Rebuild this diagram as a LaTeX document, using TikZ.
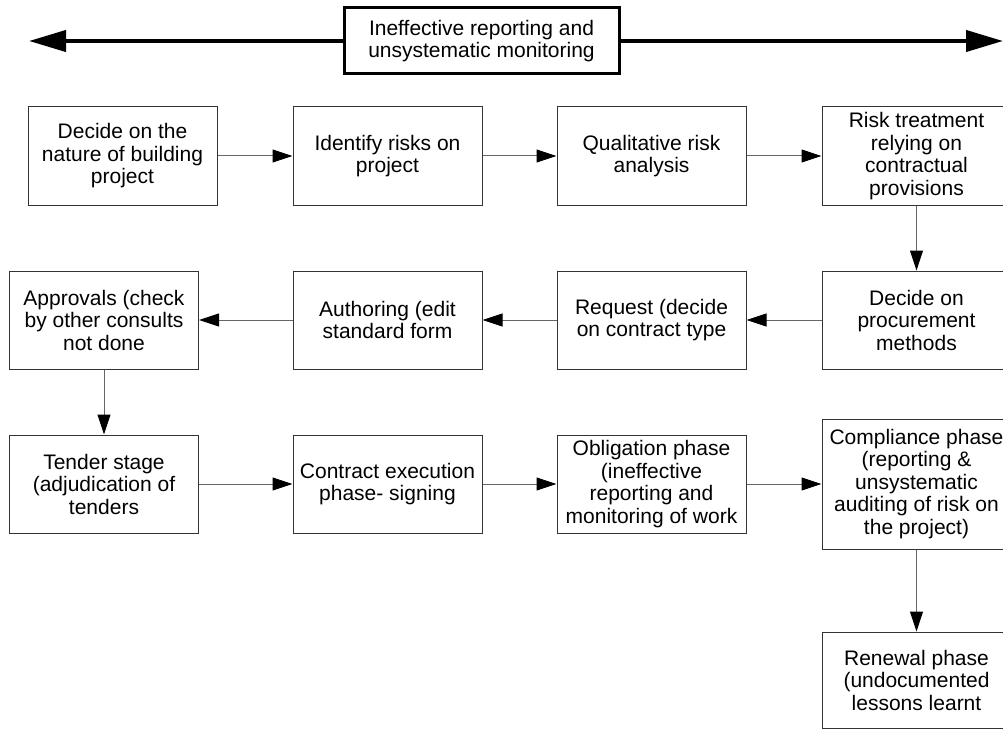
\documentclass[tikz,border=0pt]{standalone}
\usepackage{fontspec}
\setmainfont{Liberation Sans}
\usetikzlibrary{arrows.meta}
\begin{document}
\begin{tikzpicture}[x=1pt,y=-1pt,
  stepbox/.style={draw=black!80, line width=1pt, minimum width=189pt,
    minimum height=98pt, inner sep=2pt, align=center,
    font=\fontsize{21}{22.5}\selectfont},
  flow/.style={draw=black!60, line width=1pt,
    -{Triangle[length=20pt,width=13pt,color=black]}},
  banner/.style={draw=black, line width=3pt, minimum width=275pt,
    minimum height=66pt, inner sep=2pt, align=center, fill=white,
    font=\fontsize{21}{22.5}\selectfont},
  bannerarrow/.style={line width=4pt, -{Triangle[length=37pt,width=21pt]}}]
\useasboundingbox (0,0) rectangle (1003,730);
\clip (0,0) rectangle (1003,730);

% banner with a double-headed arrow across the page
\node[banner] (ban) at (481.5,41) {Ineffective reporting and\\unsystematic monitoring};
\coordinate (lefttip) at (29,41);
\coordinate (righttip) at (1003,41);
\draw[bannerarrow] (ban.west) -- (lefttip);
\draw[bannerarrow] (ban.east) -- (righttip);

% first row
\node[stepbox] (nature) at (122.5,156) {Decide on the\\nature of building\\project};
\node[stepbox] (identify) at (387.5,156) {Identify risks on\\project};
\node[stepbox] (qual) at (651.5,156) {Qualitative risk\\analysis};
\node[stepbox] (treat) at (916.5,156) {Risk treatment\\relying on\\contractual\\provisions};

% second row
\node[stepbox] (approv) at (104,320) {Approvals (check\\by other consults\\not done};
\node[stepbox] (author) at (387.5,320) {Authoring (edit\\standard form};
\node[stepbox] (request) at (651.5,320) {Request (decide\\on contract type};
\node[stepbox] (procure) at (916.5,320) {Decide on\\procurement\\methods};

% third row
\node[stepbox] (tender) at (104,484) {Tender stage\\(adjudication of\\tenders};
\node[stepbox] (exec) at (387.5,484) {Contract execution\\phase- signing};
\node[stepbox] (oblig) at (651.5,484) {Obligation phase\\(ineffective\\reporting and\\monitoring of work};
\node[stepbox, minimum height=130pt] (comply) at (916.5,484) {Compliance phase\\(reporting \&\\unsystematic\\auditing of risk on\\the project)};

% last step
\node[stepbox, minimum height=96pt] (renew) at (916.5,680) {Renewal phase\\(undocumented\\lessons learnt};

% connectors
\draw[flow] (nature) -- (identify);
\draw[flow] (identify) -- (qual);
\draw[flow] (qual) -- (treat);
\draw[flow] (treat) -- (procure);
\draw[flow] (procure) -- (request);
\draw[flow] (request) -- (author);
\draw[flow] (author) -- (approv);
\draw[flow] (approv) -- (tender);
\draw[flow] (tender) -- (exec);
\draw[flow] (exec) -- (oblig);
\draw[flow] (oblig) -- (comply);
\draw[flow] (comply) -- (renew);
\end{tikzpicture}
\end{document}
